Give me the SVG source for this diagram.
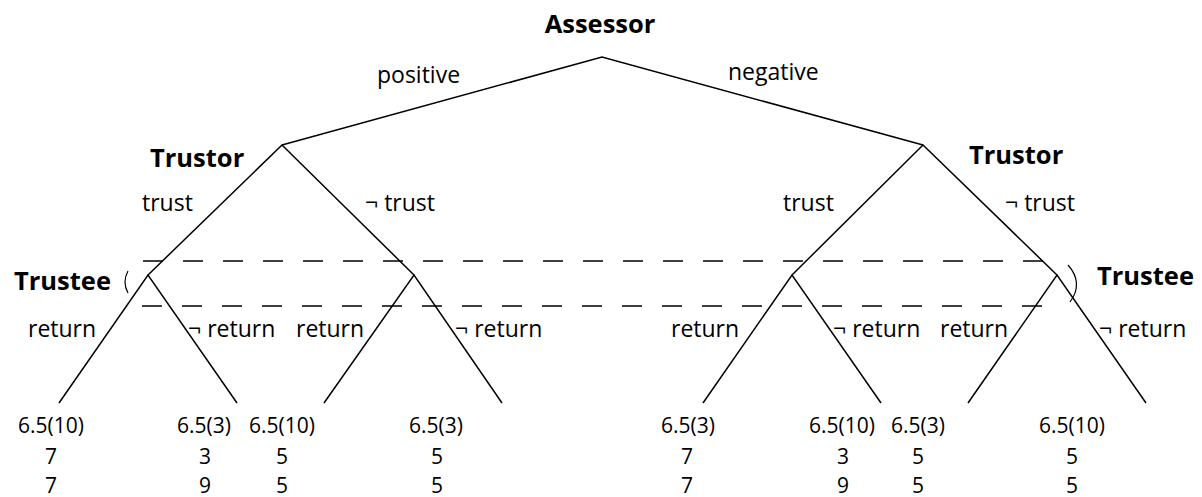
<svg xmlns="http://www.w3.org/2000/svg" width="1202" height="497" viewBox="0 0 1202 497">
<style>
.e{stroke:#000;stroke-width:1.5;fill:none}
.d{stroke:#000;stroke-width:1.4;stroke-dasharray:20 20;fill:none}
.b{stroke:#000;stroke-width:1.2;fill:none}
text{font-family:"Open Sans","DejaVu Sans",sans-serif;fill:#000}
.h{font-weight:bold;font-size:25.5px}
.l{font-size:23px}
.n{font-size:21px;text-anchor:middle}
</style>
<rect width="1202" height="497" fill="#fff"/>
<g id="connectors">
<path class="e" d="M282,145 L602,57 L923,145"/>
<path class="e" d="M148,275 L282,145 L414,275"/>
<path class="e" d="M792,275 L923,145 L1057,275"/>
<path class="e" d="M59,403 L148,275 L237,403"/>
<path class="e" d="M324,403 L414,275 L502,403"/>
<path class="e" d="M703,403 L792,275 L881,403"/>
<path class="e" d="M968,403 L1057,275 L1146,403"/>
<text class="l" x="377" y="83">positive</text>
<text class="l" x="728" y="80">negative</text>
<text class="l" x="142" y="211">trust</text>
<text class="l" x="365" y="211">¬ trust</text>
<text class="l" x="783" y="211">trust</text>
<text class="l" x="1005" y="211">¬ trust</text>
<text class="l" x="28" y="337">return</text>
<text class="l" x="188" y="337">¬ return</text>
<text class="l" x="296" y="337">return</text>
<text class="l" x="455" y="337">¬ return</text>
<text class="l" x="671" y="337">return</text>
<text class="l" x="833" y="337">¬ return</text>
<text class="l" x="940" y="337">return</text>
<text class="l" x="1099" y="337">¬ return</text>
</g>
<g id="info-set">
<line class="d" x1="143" y1="261" x2="1052" y2="261"/>
<line class="d" x1="142" y1="306" x2="1052" y2="306"/>
<path class="b" d="M128,271 Q122,282 128,293"/>
<path class="b" d="M1068,265 Q1084,283 1070,302"/>
</g>
<g id="assessor"><text class="h" x="600" y="33" text-anchor="middle">Assessor</text></g>
<g id="trustor-left"><text class="h" x="150" y="167">Trustor</text></g>
<g id="trustor-right"><text class="h" x="969" y="164">Trustor</text></g>
<g id="trustee-left"><text class="h" x="14" y="290">Trustee</text></g>
<g id="trustee-right"><text class="h" x="1097" y="285">Trustee</text></g>
<g id="leaf1"><text class="n" x="51" y="433">6.5(10)</text><text class="n" x="51" y="464">7</text><text class="n" x="51" y="493">7</text></g>
<g id="leaf2"><text class="n" x="204" y="433">6.5(3)</text><text class="n" x="205" y="464">3</text><text class="n" x="205" y="493">9</text></g>
<g id="leaf3"><text class="n" x="282" y="433">6.5(10)</text><text class="n" x="282" y="464">5</text><text class="n" x="282" y="493">5</text></g>
<g id="leaf4"><text class="n" x="436" y="433">6.5(3)</text><text class="n" x="437" y="464">5</text><text class="n" x="437" y="493">5</text></g>
<g id="leaf5"><text class="n" x="688" y="433">6.5(3)</text><text class="n" x="687" y="464">7</text><text class="n" x="687" y="493">7</text></g>
<g id="leaf6"><text class="n" x="842" y="433">6.5(10)</text><text class="n" x="843" y="464">3</text><text class="n" x="843" y="493">9</text></g>
<g id="leaf7"><text class="n" x="918" y="433">6.5(3)</text><text class="n" x="918" y="464">5</text><text class="n" x="918" y="493">5</text></g>
<g id="leaf8"><text class="n" x="1072" y="433">6.5(10)</text><text class="n" x="1072" y="464">5</text><text class="n" x="1072" y="493">5</text></g>
</svg>
